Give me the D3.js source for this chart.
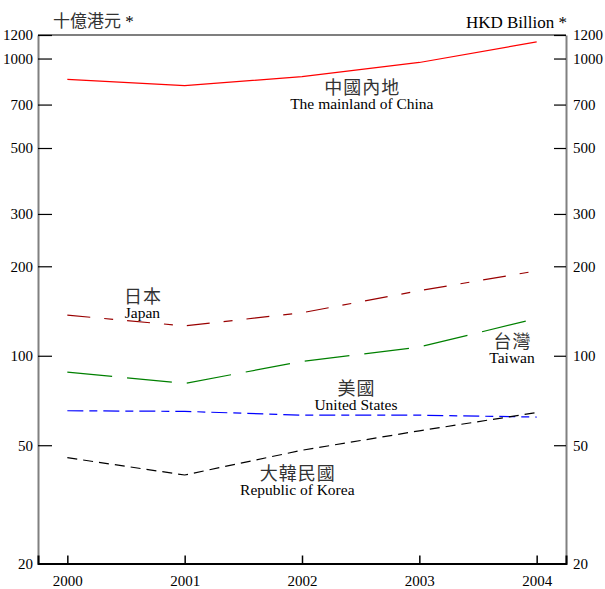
<!DOCTYPE html>
<html><head><meta charset="utf-8">
<script src="https://cdn.jsdelivr.net/npm/d3@7"></script>
<style>
html,body{margin:0;padding:0;background:#fff;}
svg{display:block;}
.serif{font-family:"Liberation Serif","Times New Roman",serif;}
.cjk{font-family:"Noto Sans CJK TC","Noto Sans CJK SC",sans-serif;}
</style></head>
<body>
<svg id="chart" width="605" height="589"></svg>
<script>
// ---- data ----
const years = [2000, 2001, 2002, 2003, 2004];
const china  = [851, 811, 869, 970, 1138];
const japan  = [137, 126, 139.5, 165.5, 193];
const taiwan = [88.1, 80.7, 95.7, 107, 133.5];
const usa    = [65.3, 65.0, 63.1, 63.1, 62.2];
const korea  = [45.4, 39.7, 48.1, 55.9, 64.4];
const yTicks = [20, 50, 100, 200, 300, 500, 700, 1000, 1200];
const seriesNamesCn = ["中國內地", "日本", "台灣", "美國", "大韓民國"];
const seriesNamesEn = ["The mainland of China", "Japan", "Taiwan", "United States", "Republic of Korea"];
// label anchors in data units (year, value)
const labelYears  = [2002.51, 2000.64, 2003.79, 2002.46, 2001.96];
const labelValues = [762, 150.8, 106.4, 73.9, 38.2];
const titleLeft = "十億港元";
const titleRight = "HKD Billion *";

// ---- layout ----
const svg = d3.select("#chart");
const L = 38, R = 566, T = 35, B = 563.5;
const x = d3.scaleLinear().domain([1999.75, 2004.25]).range([L, R]);
const y = d3.scaleLog().domain([20, 1200]).range([B, T]);

const styles = [
  {color: "#ff0000", dash: null},
  {color: "#990000", dash: "23,14,9,14"},
  {color: "#008000", dash: "45,15"},
  {color: "#0000ff", dash: "16,6,8,6"},
  {color: "#000000", dash: "10,6"}
];
const allSeries = [china, japan, taiwan, usa, korea];

// top border
svg.append("line").attr("x1", L).attr("x2", R).attr("y1", y(1200)).attr("y2", y(1200))
  .attr("stroke", "#000").attr("stroke-width", 1.2);

// left axis
const gl = svg.append("g").attr("transform", `translate(${L},0)`)
  .call(d3.axisLeft(y).tickValues(yTicks).tickFormat(d3.format("d")).tickSizeInner(-14).tickSizeOuter(0).tickPadding(5));
gl.select(".domain").attr("stroke", "#808080").attr("stroke-width", 2);
gl.selectAll(".tick line").attr("stroke", "#000").attr("stroke-width", 1.2);
gl.selectAll(".tick text").attr("class", "serif").style("font-size", "15px").attr("fill", "#000");

// right axis
const gr = svg.append("g").attr("transform", `translate(${R},0)`)
  .call(d3.axisRight(y).tickValues(yTicks).tickFormat(d3.format("d")).tickSizeInner(-12).tickSizeOuter(0).tickPadding(7));
gr.select(".domain").attr("stroke", "#808080").attr("stroke-width", 2);
gr.selectAll(".tick line").attr("stroke", "#000").attr("stroke-width", 1.2);
gr.selectAll(".tick text").attr("class", "serif").style("font-size", "15px").attr("fill", "#000");

// bottom axis
const gb = svg.append("g").attr("transform", `translate(0,${B})`)
  .call(d3.axisBottom(x).tickValues(years).tickFormat(d3.format("d")).tickSizeInner(-8).tickSizeOuter(-8).tickPadding(12));
gb.select(".domain").attr("stroke", "#000").attr("stroke-width", 2);
gb.selectAll(".tick line").attr("stroke", "#000").attr("stroke-width", 1.5);
gb.selectAll(".tick text").attr("class", "serif").style("font-size", "15px").attr("fill", "#000");

// lines
const line = d3.line().x((d, i) => x(years[i])).y(d => y(d));
allSeries.forEach((s, k) => {
  svg.append("path").datum(s).attr("d", line).attr("fill", "none")
    .attr("stroke", styles[k].color).attr("stroke-width", 1.2)
    .attr("stroke-dasharray", styles[k].dash);
});

// labels
seriesNamesCn.forEach((cn, k) => {
  const lx = x(labelYears[k]), ly = y(labelValues[k]);
  svg.append("text").attr("class", "cjk").attr("x", lx + 0.5).attr("y", ly)
    .attr("text-anchor", "middle").style("font-size", "18px").style("letter-spacing", "1px")
    .attr("fill", "#333").text(cn);
  svg.append("text").attr("class", "serif").attr("x", lx).attr("y", ly + 15.5)
    .attr("text-anchor", "middle").style("font-size", "15.5px").attr("fill", "#000").text(seriesNamesEn[k]);
});

// titles
const tl = svg.append("text").attr("x", 53).attr("y", 27).style("font-size", "17px").attr("fill", "#333");
tl.append("tspan").attr("class", "cjk").text(titleLeft);
tl.append("tspan").attr("class", "serif").attr("fill", "#000").text(" *");
svg.append("text").attr("class", "serif").attr("x", 567).attr("y", 28).attr("text-anchor", "end")
  .style("font-size", "17px").attr("fill", "#000").text(titleRight);
</script>
</body></html>
